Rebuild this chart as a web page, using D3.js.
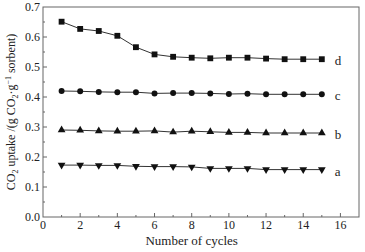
<!DOCTYPE html>
<html>
<head>
<meta charset="utf-8">
<script src="https://cdn.jsdelivr.net/npm/d3@7"></script>
<style>
  body { margin: 0; background: #fff; }
  text { font-family: "Liberation Serif", "DejaVu Serif", serif; fill: #222; }
</style>
</head>
<body>
<div id="chart"></div>
<script>
var width = 365, height = 252;
var margin = {left: 43, right: 6, top: 7, bottom: 35};

// cycle numbers
var cycles = [1, 2, 3, 4, 5, 6, 7, 8, 9, 10, 11, 12, 13, 14, 15];
// CO2 uptake for each sorbent
var seriesD = [0.651, 0.627, 0.620, 0.604, 0.566, 0.542, 0.534, 0.531, 0.529, 0.531, 0.531, 0.528, 0.526, 0.526, 0.526];
var seriesC = [0.420, 0.419, 0.417, 0.416, 0.416, 0.412, 0.413, 0.413, 0.412, 0.410, 0.411, 0.409, 0.409, 0.409, 0.409];
var seriesB = [0.290, 0.289, 0.287, 0.286, 0.286, 0.287, 0.283, 0.286, 0.284, 0.282, 0.282, 0.280, 0.280, 0.280, 0.280];
var seriesA = [0.173, 0.173, 0.172, 0.172, 0.169, 0.168, 0.168, 0.167, 0.162, 0.162, 0.162, 0.158, 0.158, 0.158, 0.158];
var seriesNames = ["d", "c", "b", "a"];
var xTicks = [0, 2, 4, 6, 8, 10, 12, 14, 16];
var yTicks = [0.0, 0.1, 0.2, 0.3, 0.4, 0.5, 0.6, 0.7];

var series = [
  {name: "d", values: seriesD, symbol: d3.symbolSquare, size: 34, rot: 0},
  {name: "c", values: seriesC, symbol: d3.symbolCircle, size: 28, rot: 0},
  {name: "b", values: seriesB, symbol: d3.symbolTriangle, size: 26, rot: 0},
  {name: "a", values: seriesA, symbol: d3.symbolTriangle, size: 26, rot: 180}
];

var svg = d3.select('#chart').append('svg')
  .attr('width', width)
  .attr('height', height);

var x = d3.scaleLinear().domain([0, 17]).range([margin.left, width - margin.right]);
var y = d3.scaleLinear().domain([0, 0.7]).range([height - margin.bottom, margin.top]);

var frameColor = "#666";
var x0 = x.range()[0], x1 = x.range()[1], y0 = y.range()[0], y1 = y.range()[1];

// frame
svg.append('rect')
  .attr('x', x0).attr('y', y1)
  .attr('width', x1 - x0).attr('height', y0 - y1)
  .attr('fill', 'none').attr('stroke', frameColor).attr('stroke-width', 1);

// x ticks (inward), major every 2, minor at odd values
var xMinor = d3.range(1, 17, 2);
svg.selectAll('.xmaj').data(xTicks.slice(1)).enter().append('line')
  .attr('x1', function(d){ return x(d) }).attr('x2', function(d){ return x(d) })
  .attr('y1', y0).attr('y2', y0 - 4)
  .attr('stroke', frameColor);
svg.selectAll('.xmin').data(xMinor).enter().append('line')
  .attr('x1', function(d){ return x(d) }).attr('x2', function(d){ return x(d) })
  .attr('y1', y0).attr('y2', y0 - 2)
  .attr('stroke', frameColor);
svg.selectAll('.xlab').data(xTicks).enter().append('text')
  .attr('x', function(d){ return x(d) })
  .attr('y', y0 + 12)
  .attr('text-anchor', 'middle')
  .attr('font-size', 12)
  .text(function(d){ return d });

// y ticks
var yMinor = d3.range(0.05, 0.7, 0.1);
svg.selectAll('.ymaj').data(yTicks.slice(1, -1)).enter().append('line')
  .attr('x1', x0).attr('x2', x0 + 4)
  .attr('y1', function(d){ return y(d) }).attr('y2', function(d){ return y(d) })
  .attr('stroke', frameColor);
svg.selectAll('.ymin').data(yMinor).enter().append('line')
  .attr('x1', x0).attr('x2', x0 + 2)
  .attr('y1', function(d){ return y(d) }).attr('y2', function(d){ return y(d) })
  .attr('stroke', frameColor);
svg.selectAll('.ylab').data(yTicks).enter().append('text')
  .attr('x', x0 - 3)
  .attr('y', function(d){ return y(d) + 4 })
  .attr('text-anchor', 'end')
  .attr('font-size', 12)
  .text(function(d){ return d.toFixed(1) });

// lines + markers
var line = d3.line()
  .x(function(d, i){ return x(cycles[i]) })
  .y(function(d){ return y(d) });

series.forEach(function(s){
  svg.append('path')
    .datum(s.values)
    .attr('d', line)
    .attr('fill', 'none')
    .attr('stroke', '#333')
    .attr('stroke-width', 1);

  svg.selectAll('.m-' + s.name).data(s.values).enter().append('path')
    .attr('d', d3.symbol().type(s.symbol).size(s.size))
    .attr('transform', function(d, i){
      return 'translate(' + x(cycles[i]) + ',' + y(d) + ') rotate(' + s.rot + ')';
    })
    .attr('fill', '#111');

  svg.append('text')
    .attr('x', x(15) + 13)
    .attr('y', y(s.values[s.values.length - 1]) + 6)
    .attr('font-size', 13)
    .text(s.name);
});

// axis titles
svg.append('text')
  .attr('x', (x(0) + x(16)) / 2)
  .attr('y', 245)
  .attr('text-anchor', 'middle')
  .attr('font-size', 13)
  .text('Number of cycles');

var yt = svg.append('text')
  .attr('transform', 'translate(15,' + ((y0 + y1) / 2) + ') rotate(-90)')
  .attr('text-anchor', 'middle')
  .attr('font-size', 12);
yt.append('tspan').text('CO');
yt.append('tspan').attr('font-size', 8).attr('dy', 3).text('2');
yt.append('tspan').attr('dy', -3).text(' uptake /(g CO');
yt.append('tspan').attr('font-size', 8).attr('dy', 3).text('2');
yt.append('tspan').attr('dy', -3).text('\u00b7g');
yt.append('tspan').attr('font-size', 8).attr('dy', -4).text('\u22121');
yt.append('tspan').attr('dy', 4).text(' sorbent)');
</script>
</body>
</html>
